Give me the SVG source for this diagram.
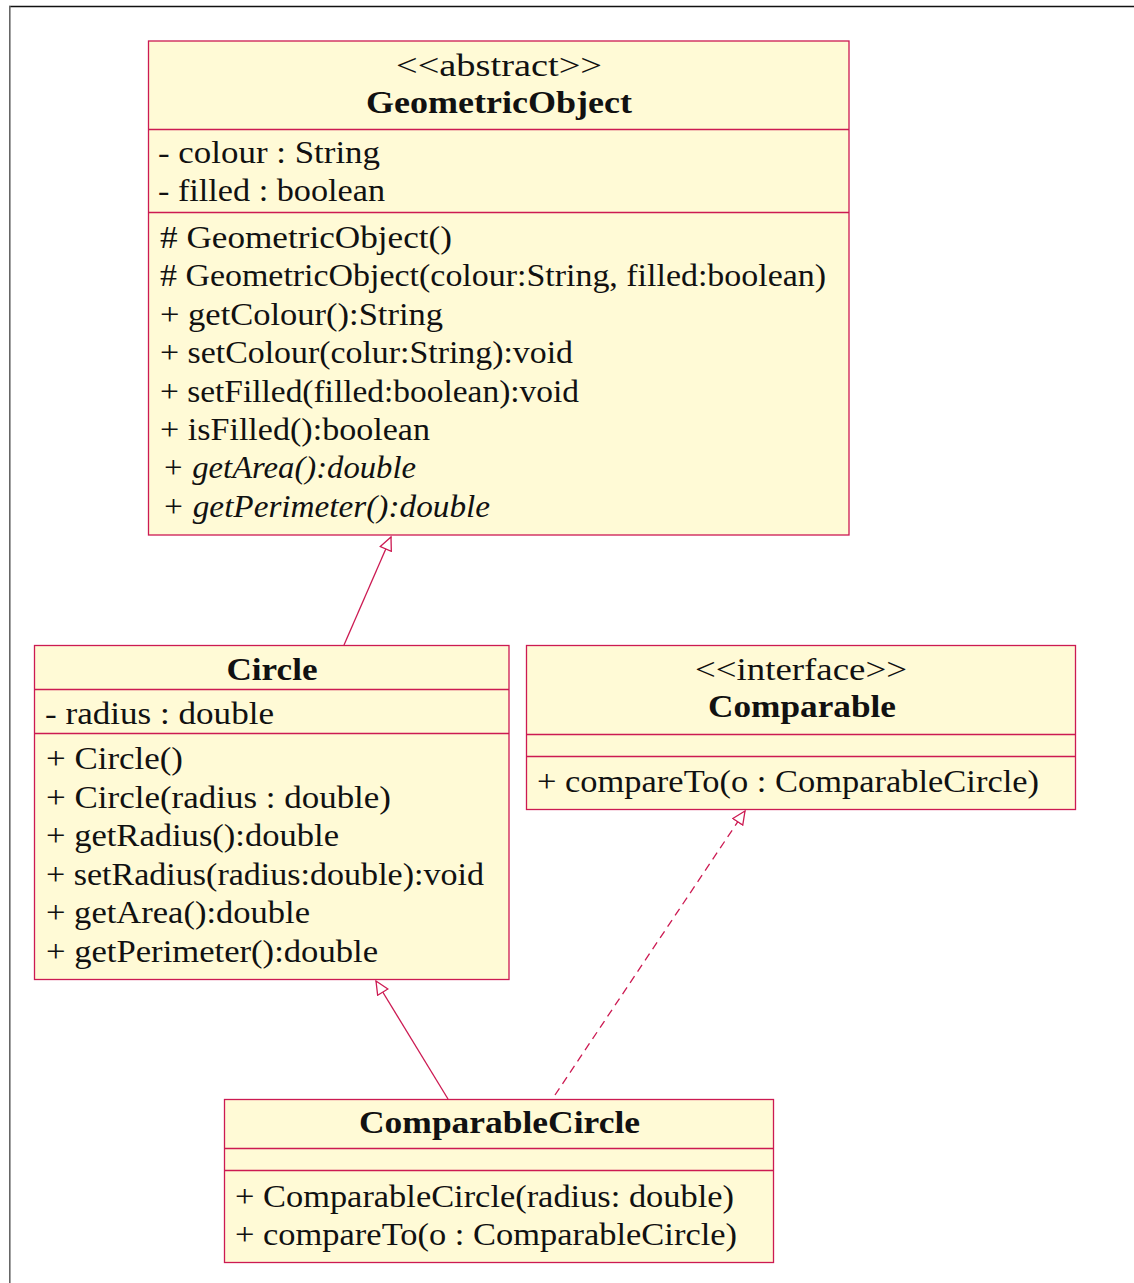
<svg xmlns="http://www.w3.org/2000/svg" width="1134" height="1283" viewBox="0 0 1134 1283">
<style>
.box{fill:#fffad6;stroke:#cc1a52;stroke-width:1.3}
.sep{stroke:#cc1a52;stroke-width:1.3}
.t{font-family:"Liberation Serif","DejaVu Serif",serif;font-size:32px;fill:#111}
.b{font-weight:bold}
.i{font-style:italic}
.m{text-anchor:middle}
.conn{stroke:#cc1a52;stroke-width:1.3;fill:none}
.dash{stroke-dasharray:8 5.5}
</style>
<defs>
<marker id="tri" markerUnits="userSpaceOnUse" markerWidth="16" markerHeight="14" refX="13" refY="6" orient="auto" viewBox="-1 -1 16 14">
<path d="M0,0 L13,6 L0,12 z" fill="#ffffff" stroke="#cc1a52" stroke-width="1.3"/>
</marker>
</defs>
<rect width="1134" height="1283" fill="#ffffff"/>
<line x1="9" y1="6.5" x2="1134" y2="6.5" stroke="#111" stroke-width="1.4"/>
<line x1="9.8" y1="6" x2="9.8" y2="1283" stroke="#666" stroke-width="1.6"/>

<g id="connectors">
<line class="conn" x1="344" y1="645" x2="391" y2="537" marker-end="url(#tri)"/>
<line class="conn" x1="448" y1="1099" x2="376" y2="981" marker-end="url(#tri)"/>
<line class="conn dash" x1="555" y1="1095" x2="745" y2="811" marker-end="url(#tri)"/>
</g>

<g id="GeometricObject">
<rect class="box" x="148.5" y="41" width="700.5" height="494"/>
<line class="sep" x1="148.5" y1="129.5" x2="849" y2="129.5"/>
<line class="sep" x1="148.5" y1="212.5" x2="849" y2="212.5"/>
<text class="t m" x="499" y="76" textLength="206" lengthAdjust="spacingAndGlyphs">&lt;&lt;abstract&gt;&gt;</text>
<text class="t b m" x="499" y="113" textLength="266" lengthAdjust="spacingAndGlyphs">GeometricObject</text>
<text class="t" x="158" y="163" textLength="222" lengthAdjust="spacingAndGlyphs">- colour :  String</text>
<text class="t" x="158" y="201" textLength="227" lengthAdjust="spacingAndGlyphs">- filled :  boolean</text>
<text class="t" x="160" y="248" textLength="292" lengthAdjust="spacingAndGlyphs"># GeometricObject()</text>
<text class="t" x="160" y="286" textLength="666" lengthAdjust="spacingAndGlyphs"># GeometricObject(colour:String, filled:boolean)</text>
<text class="t" x="160" y="325" textLength="283" lengthAdjust="spacingAndGlyphs">+ getColour():String</text>
<text class="t" x="160" y="363" textLength="413" lengthAdjust="spacingAndGlyphs">+ setColour(colur:String):void</text>
<text class="t" x="160" y="402" textLength="419" lengthAdjust="spacingAndGlyphs">+ setFilled(filled:boolean):void</text>
<text class="t" x="160" y="440" textLength="270" lengthAdjust="spacingAndGlyphs">+ isFilled():boolean</text>
<text class="t i" x="162" y="478" textLength="254" lengthAdjust="spacingAndGlyphs">+ getArea():double</text>
<text class="t i" x="162" y="517" textLength="328" lengthAdjust="spacingAndGlyphs">+ getPerimeter():double</text>
</g>

<g id="Circle">
<rect class="box" x="34.5" y="645.5" width="474.5" height="334"/>
<line class="sep" x1="34.5" y1="689.5" x2="509" y2="689.5"/>
<line class="sep" x1="34.5" y1="733.5" x2="509" y2="733.5"/>
<text class="t b m" x="272" y="680" textLength="91" lengthAdjust="spacingAndGlyphs">Circle</text>
<text class="t" x="45" y="724" textLength="229" lengthAdjust="spacingAndGlyphs">- radius :  double</text>
<text class="t" x="46" y="769" textLength="137" lengthAdjust="spacingAndGlyphs">+ Circle()</text>
<text class="t" x="46" y="808" textLength="345" lengthAdjust="spacingAndGlyphs">+ Circle(radius :  double)</text>
<text class="t" x="46" y="846" textLength="293" lengthAdjust="spacingAndGlyphs">+ getRadius():double</text>
<text class="t" x="46" y="885" textLength="438" lengthAdjust="spacingAndGlyphs">+ setRadius(radius:double):void</text>
<text class="t" x="46" y="923" textLength="264" lengthAdjust="spacingAndGlyphs">+ getArea():double</text>
<text class="t" x="46" y="962" textLength="332" lengthAdjust="spacingAndGlyphs">+ getPerimeter():double</text>
</g>

<g id="Comparable">
<rect class="box" x="526.5" y="645.5" width="549" height="164"/>
<line class="sep" x1="526.5" y1="734.5" x2="1075.5" y2="734.5"/>
<line class="sep" x1="526.5" y1="756.5" x2="1075.5" y2="756.5"/>
<text class="t m" x="801" y="680" textLength="212" lengthAdjust="spacingAndGlyphs">&lt;&lt;interface&gt;&gt;</text>
<text class="t b m" x="802" y="717" textLength="188" lengthAdjust="spacingAndGlyphs">Comparable</text>
<text class="t" x="537" y="792" textLength="502" lengthAdjust="spacingAndGlyphs">+ compareTo(o :  ComparableCircle)</text>
</g>

<g id="ComparableCircle">
<rect class="box" x="224.5" y="1099.5" width="549" height="163"/>
<line class="sep" x1="224.5" y1="1148.5" x2="773.5" y2="1148.5"/>
<line class="sep" x1="224.5" y1="1170.5" x2="773.5" y2="1170.5"/>
<text class="t b m" x="499.5" y="1133" textLength="281" lengthAdjust="spacingAndGlyphs">ComparableCircle</text>
<text class="t" x="235" y="1207" textLength="499" lengthAdjust="spacingAndGlyphs">+ ComparableCircle(radius:  double)</text>
<text class="t" x="235" y="1245" textLength="502" lengthAdjust="spacingAndGlyphs">+ compareTo(o :  ComparableCircle)</text>
</g>
</svg>
